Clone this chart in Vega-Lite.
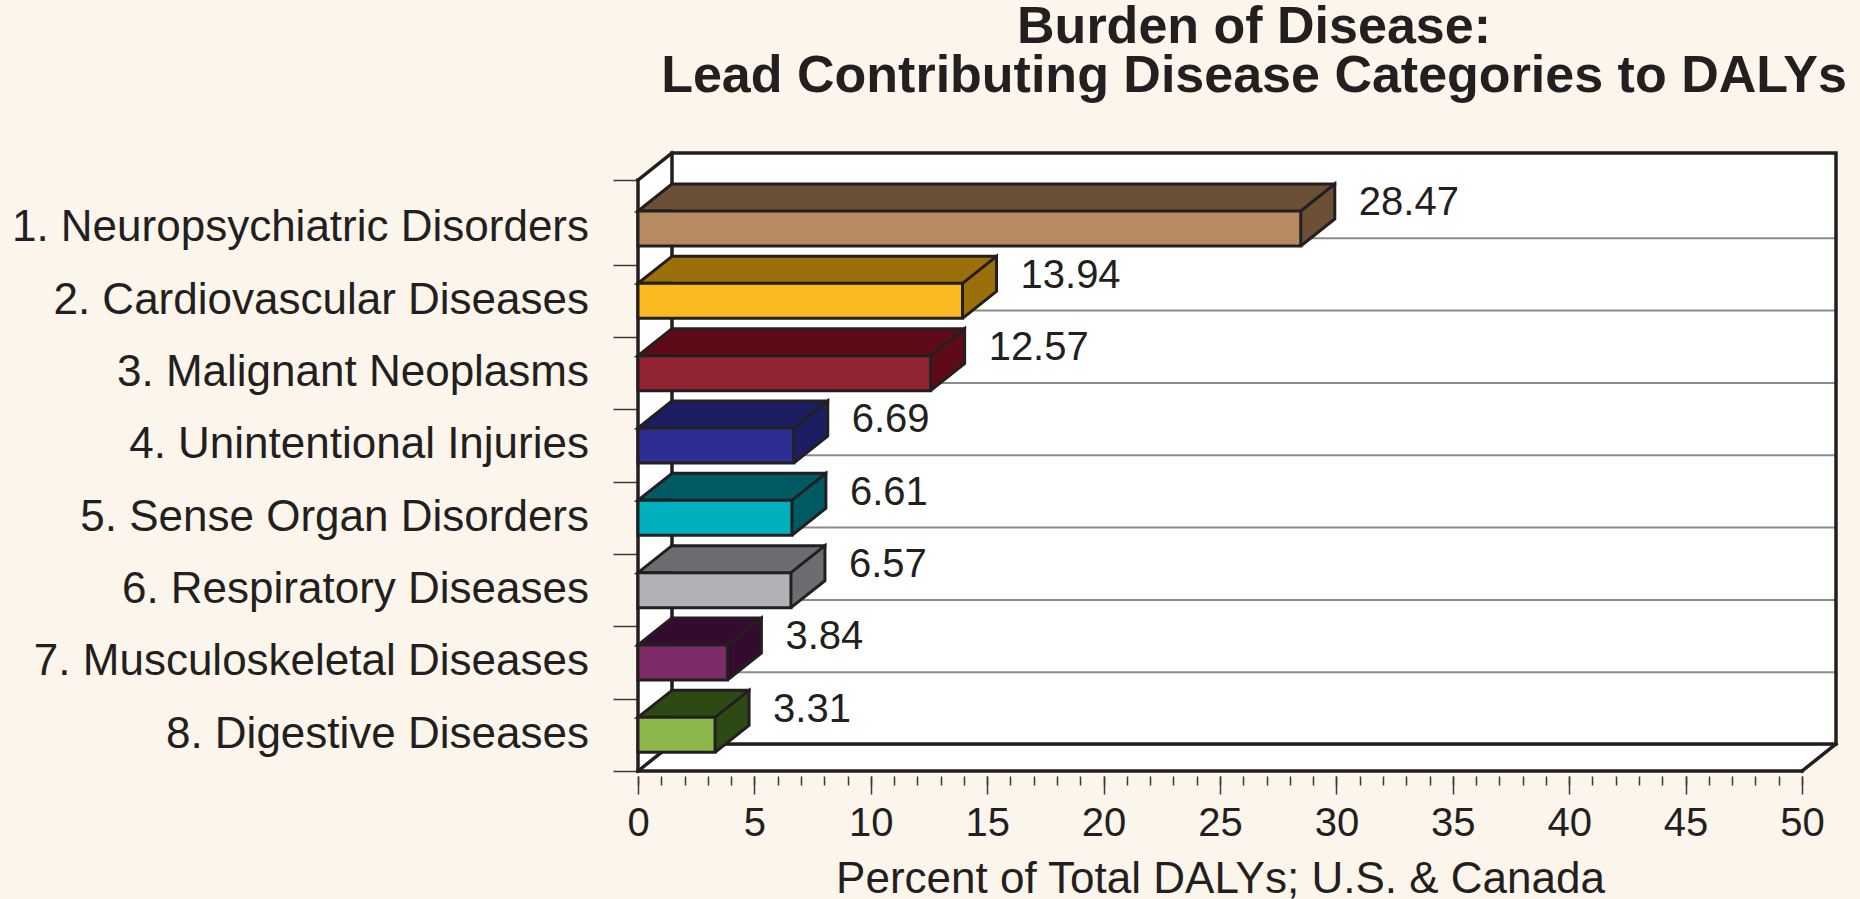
{
  "$schema": "https://vega.github.io/schema/vega-lite/v6.json",
  "width": 1164,
  "height": 601,
  "autosize": {"type": "none"},
  "padding": {"left": 638, "top": 175, "right": 58, "bottom": 123},
  "background": "#FCF5EC",
  "config": {"view": {"stroke": null}, "font": "Liberation Sans"},
  "title": {
    "text": ["Burden of Disease:", "Lead Contributing Disease Categories to DALYs"],
    "font": "Liberation Sans",
    "fontSize": 52,
    "fontWeight": "bold",
    "color": "#231F20",
    "anchor": "middle",
    "frame": "group",
    "dx": 34,
    "offset": 48,
    "lineHeight": 49
  },
  "data": {
    "values": [
      {"rank": 1, "label": "1. Neuropsychiatric Disorders", "value": 28.47},
      {"rank": 2, "label": "2. Cardiovascular Diseases", "value": 13.94},
      {"rank": 3, "label": "3. Malignant Neoplasms", "value": 12.57},
      {"rank": 4, "label": "4. Unintentional Injuries", "value": 6.69},
      {"rank": 5, "label": "5. Sense Organ Disorders", "value": 6.61},
      {"rank": 6, "label": "6. Respiratory Diseases", "value": 6.57},
      {"rank": 7, "label": "7. Musculoskeletal Diseases", "value": 3.84},
      {"rank": 8, "label": "8. Digestive Diseases", "value": 3.31}
    ]
  },
  "resolve": {"scale": {"fill": "independent"}, "axis": {"x": "independent", "y": "independent"}},
  "layer": [
    {
      "data": {"values": [{}]},
      "mark": {"type": "rect", "fill": "white", "xOffset": 34, "x2Offset": 34, "yOffset": -27, "y2Offset": -27},
      "encoding": {
        "x": {
          "datum": 0, "type": "quantitative",
          "scale": {"domain": [0, 50], "nice": false, "zero": true},
          "axis": {
            "orient": "bottom",
            "values": [0,1,2,3,4,5,6,7,8,9,10,11,12,13,14,15,16,17,18,19,20,21,22,23,24,25,26,27,28,29,30,31,32,33,34,35,36,37,38,39,40,41,42,43,44,45,46,47,48,49,50],
            "labels": false,
            "domain": false,
            "grid": false,
            "tickSize": 9,
            "tickColor": "#3A3A3A",
            "tickWidth": 1.5,
            "title": null
          }
        },
        "x2": {"datum": 50},
        "y": {
          "datum": 0.33, "type": "quantitative",
          "scale": {"domain": [0.33, 8.5], "reverse": true, "nice": false, "zero": false},
          "axis": {
            "orient": "left",
            "values": [0.33, 1.5, 2.5, 3.5, 4.5, 5.5, 6.5, 7.5, 8.5],
            "labels": false,
            "domain": false,
            "grid": false,
            "ticks": true,
            "tickSize": 25,
            "tickColor": "#3A3A3A",
            "tickWidth": 1.5,
            "title": null
          }
        },
        "y2": {"datum": 8.5}
      }
    },
    {
      "data": {"values": [{}]},
      "mark": {"type": "rect", "fill": "white"},
      "encoding": {
        "x": {"datum": 0, "type": "quantitative", "axis": null},
        "x2": {"datum": 50},
        "y": {"datum": 0.33, "type": "quantitative", "axis": null},
        "y2": {"datum": 8.5}
      }
    },
    {
      "data": {"values": [{}]},
      "mark": {"type": "point", "shape": "M0,0 L34,-27 L34,0 Z", "size": 4, "filled": true, "fill": "white", "opacity": 1, "strokeWidth": 0},
      "encoding": {
        "x": {"datum": 0, "type": "quantitative", "axis": null},
        "y": {"datum": 0.33, "type": "quantitative", "axis": null}
      }
    },
    {
      "data": {"values": [{}]},
      "mark": {"type": "point", "shape": "M0,0 L34,-27 L0,-27 Z", "size": 4, "filled": true, "fill": "white", "opacity": 1, "strokeWidth": 0},
      "encoding": {
        "x": {"datum": 50, "type": "quantitative", "axis": null},
        "y": {"datum": 8.5, "type": "quantitative", "axis": null}
      }
    },
    {
      "mark": {"type": "rule", "color": "#8C8C8C", "strokeWidth": 2, "xOffset": 34, "x2Offset": 34, "yOffset": 9.75},
      "encoding": {
        "x": {"datum": 0, "type": "quantitative", "axis": null},
        "x2": {"datum": 50},
        "y": {"field": "rank", "type": "quantitative", "axis": null}
      }
    },
    {
      "data": {"values": [{}]},
      "mark": {"type": "rect", "fill": "white", "fillOpacity": 0, "stroke": "#231F20", "strokeWidth": 3.5, "xOffset": 34, "x2Offset": 34, "yOffset": -27, "y2Offset": -27},
      "encoding": {
        "x": {"datum": 0, "type": "quantitative", "axis": null},
        "x2": {"datum": 50},
        "y": {"datum": 0.33, "type": "quantitative", "axis": null},
        "y2": {"datum": 8.5}
      }
    },
    {
      "data": {"values": [{}]},
      "mark": {"type": "rule", "color": "#231F20", "strokeWidth": 3.5, "strokeCap": "square"},
      "encoding": {
        "x": {"datum": 0, "type": "quantitative", "axis": null},
        "y": {"datum": 0.33, "type": "quantitative", "axis": null},
        "y2": {"datum": 8.5}
      }
    },
    {
      "data": {"values": [{}]},
      "mark": {"type": "rule", "color": "#231F20", "strokeWidth": 3.5, "strokeCap": "square"},
      "encoding": {
        "x": {"datum": 0, "type": "quantitative", "axis": null},
        "x2": {"datum": 50},
        "y": {"datum": 8.5, "type": "quantitative", "axis": null}
      }
    },
    {
      "data": {"values": [{}]},
      "mark": {"type": "rule", "color": "#231F20", "strokeWidth": 3.5, "strokeCap": "square", "x2Offset": 34, "y2Offset": -27},
      "encoding": {
        "x": {"datum": 0, "type": "quantitative", "axis": null},
        "x2": {"datum": 0},
        "y": {"datum": 0.33, "type": "quantitative", "axis": null},
        "y2": {"datum": 0.33}
      }
    },
    {
      "data": {"values": [{}]},
      "mark": {"type": "rule", "color": "#231F20", "strokeWidth": 3.5, "strokeCap": "square", "x2Offset": 34, "y2Offset": -27},
      "encoding": {
        "x": {"datum": 0, "type": "quantitative", "axis": null},
        "x2": {"datum": 0},
        "y": {"datum": 8.5, "type": "quantitative", "axis": null},
        "y2": {"datum": 8.5}
      }
    },
    {
      "data": {"values": [{}]},
      "mark": {"type": "rule", "color": "#231F20", "strokeWidth": 3.5, "strokeCap": "square", "x2Offset": 34, "y2Offset": -27},
      "encoding": {
        "x": {"datum": 50, "type": "quantitative", "axis": null},
        "x2": {"datum": 50},
        "y": {"datum": 8.5, "type": "quantitative", "axis": null},
        "y2": {"datum": 8.5}
      }
    },
    {
      "mark": {"type": "bar", "orient": "horizontal", "height": 35, "xOffset": 34, "x2Offset": 34, "yOffset": -27},
      "encoding": {
        "x": {"field": "value", "type": "quantitative", "stack": null, "axis": null},
        "x2": {"datum": 0},
        "y": {"field": "rank", "type": "quantitative", "axis": null},
        "fill": {
          "field": "label", "type": "nominal", "legend": null,
          "scale": {
            "domain": ["1. Neuropsychiatric Disorders", "2. Cardiovascular Diseases", "3. Malignant Neoplasms", "4. Unintentional Injuries", "5. Sense Organ Disorders", "6. Respiratory Diseases", "7. Musculoskeletal Diseases", "8. Digestive Diseases"],
            "range": ["#6B5035", "#9B700A", "#5E0B17", "#1B1E63", "#005A63", "#6D6D71", "#340B2E", "#2E4A14"]
          }
        }
      }
    },
    {
      "mark": {"type": "point", "shape": "M0,17.5 L34,-9.5 L34,-44.5 L0,-17.5", "size": 4, "filled": true, "opacity": 1, "stroke": "#231F20", "strokeWidth": 3, "strokeJoin": "miter"},
      "encoding": {
        "x": {"field": "value", "type": "quantitative", "axis": null},
        "y": {"field": "rank", "type": "quantitative", "axis": null},
        "fill": {
          "field": "label", "type": "nominal", "legend": null,
          "scale": {
            "domain": ["1. Neuropsychiatric Disorders", "2. Cardiovascular Diseases", "3. Malignant Neoplasms", "4. Unintentional Injuries", "5. Sense Organ Disorders", "6. Respiratory Diseases", "7. Musculoskeletal Diseases", "8. Digestive Diseases"],
            "range": ["#6B5035", "#9B700A", "#5E0B17", "#1B1E63", "#005A63", "#6D6D71", "#340B2E", "#2E4A14"]
          }
        }
      }
    },
    {
      "mark": {"type": "point", "shape": "M34,-17.5 L0,-17.5 L34,-44.5", "size": 4, "filled": true, "opacity": 1, "stroke": "#231F20", "strokeWidth": 3, "strokeJoin": "miter"},
      "encoding": {
        "x": {"datum": 0, "type": "quantitative", "axis": null},
        "y": {"field": "rank", "type": "quantitative", "axis": null},
        "fill": {
          "field": "label", "type": "nominal", "legend": null,
          "scale": {
            "domain": ["1. Neuropsychiatric Disorders", "2. Cardiovascular Diseases", "3. Malignant Neoplasms", "4. Unintentional Injuries", "5. Sense Organ Disorders", "6. Respiratory Diseases", "7. Musculoskeletal Diseases", "8. Digestive Diseases"],
            "range": ["#6B5035", "#9B700A", "#5E0B17", "#1B1E63", "#005A63", "#6D6D71", "#340B2E", "#2E4A14"]
          }
        }
      }
    },
    {
      "mark": {"type": "rule", "color": "#231F20", "strokeWidth": 3, "strokeCap": "square", "xOffset": 34, "x2Offset": 34, "yOffset": -44.5},
      "encoding": {
        "x": {"field": "value", "type": "quantitative", "axis": null},
        "x2": {"datum": 0},
        "y": {"field": "rank", "type": "quantitative", "axis": null}
      }
    },
    {
      "mark": {"type": "bar", "orient": "horizontal", "height": 35, "stroke": "#231F20", "strokeWidth": 3},
      "encoding": {
        "x": {
          "field": "value", "type": "quantitative", "stack": null,
          "axis": {
            "orient": "bottom",
            "title": "Percent of Total DALYs; U.S. & Canada",
            "values": [0, 5, 10, 15, 20, 25, 30, 35, 40, 45, 50],
            "tickSize": 18,
            "tickColor": "#3A3A3A",
            "tickWidth": 1.5,
            "domain": false,
            "grid": false,
            "labelFont": "Liberation Sans",
            "labelFontSize": 40,
            "labelColor": "#231F20",
            "labelPadding": 9,
            "labelOverlap": false,
            "labelFlush": false,
            "labelBound": false,
            "titleFont": "Liberation Sans",
            "titleFontSize": 44,
            "titleFontWeight": "normal",
            "titleColor": "#231F20",
            "titlePadding": 14
          }
        },
        "y": {"field": "rank", "type": "quantitative", "axis": null},
        "fill": {
          "field": "label", "type": "nominal", "legend": null,
          "scale": {
            "domain": ["1. Neuropsychiatric Disorders", "2. Cardiovascular Diseases", "3. Malignant Neoplasms", "4. Unintentional Injuries", "5. Sense Organ Disorders", "6. Respiratory Diseases", "7. Musculoskeletal Diseases", "8. Digestive Diseases"],
            "range": ["#B68B62", "#FBBA1F", "#922333", "#2D2E93", "#00B0BE", "#B1B1B6", "#7E2A68", "#8CB54A"]
          }
        }
      }
    },
    {
      "mark": {"type": "text", "align": "left", "baseline": "middle", "dx": 58, "dy": -25, "fontSize": 40, "font": "Liberation Sans", "color": "#231F20"},
      "encoding": {
        "x": {"field": "value", "type": "quantitative", "axis": null},
        "y": {"field": "rank", "type": "quantitative", "axis": null},
        "text": {"field": "value", "type": "quantitative", "format": ".2f"}
      }
    },
    {
      "mark": {"type": "text", "align": "right", "baseline": "middle", "dx": -49, "fontSize": 44, "font": "Liberation Sans", "color": "#231F20"},
      "encoding": {
        "x": {"datum": 0, "type": "quantitative", "axis": null},
        "y": {"field": "rank", "type": "quantitative", "axis": null},
        "text": {"field": "label", "type": "nominal"}
      }
    }
  ]
}
